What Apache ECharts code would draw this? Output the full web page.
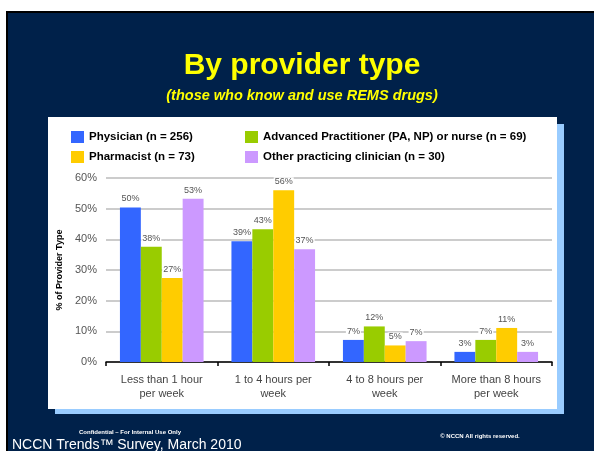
<!DOCTYPE html>
<html>
<head>
<meta charset="utf-8">
<script src="https://cdn.jsdelivr.net/npm/echarts@6/dist/echarts.min.js"></script>
<style>
  html, body { margin: 0; padding: 0; background: #fff; overflow: hidden; }
  #chart { width: 594px; height: 451px; }
</style>
</head>
<body>
<div id="chart"></div>
<script>
// categories (x axis)
var categories = ['Less than 1 hour\nper week', '1 to 4 hours per\nweek', '4 to 8 hours per\nweek', 'More than 8 hours\nper week']
// % of provider type
var physician = [50.4, 39.4, 7.2, 3.3]
var advanced = [37.6, 43.3, 11.6, 7.2]
var pharmacist = [27.4, 56.0, 5.4, 11.1]
var other = [53.2, 36.8, 6.8, 3.3]
var seriesNames = ['Physician (n = 256)', 'Advanced Practitioner (PA, NP) or nurse (n = 69)', 'Pharmacist (n = 73)', 'Other practicing clinician (n = 30)']
var colors = ['#3366FF', '#99CC00', '#FFCC00', '#CC99FF']

var navy = '#00214A'

var myChart = echarts.init(document.getElementById('chart'))

function makeSeries(name, data, color) {
	return {
		name: name,
		type: 'bar',
		data: data,
		barGap: '0%',
		barCategoryGap: '25%',
		itemStyle: { color: color },
		label: {
			show: true,
			position: 'top',
			distance: 4,
			color: '#555',
			fontSize: 9,
			fontFamily: 'Liberation Sans, Arial, sans-serif',
			backgroundColor: '#fff',
			padding: [0, 1],
			formatter: function(p) { return Math.round(p.value) + '%' }
		}
	}
}

var legendText = {
	color: '#000',
	fontSize: 11.5,
	fontWeight: 'bold',
	fontFamily: 'Liberation Sans, Arial, sans-serif'
}

var option = {
	backgroundColor: '#fff',
	animation: false,
	graphic: [
		// slide background
		{ type: 'rect', shape: { x: 6, y: 11, width: 600, height: 450 }, style: { fill: '#000' }, z: -10 },
		{ type: 'rect', shape: { x: 8, y: 13, width: 600, height: 450 }, style: { fill: navy }, z: -9 },
		// panel shadow + panel
		{ type: 'rect', shape: { x: 55, y: 124, width: 509, height: 290 }, style: { fill: '#99CCFF' }, z: -8 },
		{ type: 'rect', shape: { x: 48, y: 117, width: 509, height: 292 }, style: { fill: '#fff' }, z: -7 },
		// titles
		{
			type: 'text', x: 302, y: 66,
			style: { text: 'By provider type', fill: '#FFFF00', font: 'bold 30px "Liberation Sans", Arial, sans-serif', align: 'center', verticalAlign: 'middle' }
		},
		{
			type: 'text', x: 302, y: 96,
			style: { text: '(those who know and use REMS drugs)', fill: '#FFFF00', font: 'italic bold 14.5px "Liberation Sans", Arial, sans-serif', align: 'center', verticalAlign: 'middle' }
		},
		// footer
		{
			type: 'text', x: 130, y: 432,
			style: { text: 'Confidential – For Internal Use Only', fill: '#fff', font: 'bold 6px "Liberation Sans", Arial, sans-serif', align: 'center', verticalAlign: 'middle' }
		},
		{
			type: 'text', x: 480, y: 436,
			style: { text: '© NCCN All rights reserved.', fill: '#fff', font: 'bold 6px "Liberation Sans", Arial, sans-serif', align: 'center', verticalAlign: 'middle' }
		},
		{
			type: 'text', x: 12, y: 445,
			style: { text: 'NCCN Trends™ Survey, March 2010', fill: '#fff', font: '14px "Liberation Sans", Arial, sans-serif', align: 'left', verticalAlign: 'middle' }
		}
	],
	legend: [{
		data: [seriesNames[0], seriesNames[2]],
		orient: 'vertical',
		left: 71,
		top: 131,
		padding: 0,
		itemWidth: 13,
		itemHeight: 12,
		itemGap: 8,
		icon: 'rect',
		textStyle: legendText
	}, {
		data: [seriesNames[1], seriesNames[3]],
		orient: 'vertical',
		left: 245,
		top: 131,
		padding: 0,
		itemWidth: 13,
		itemHeight: 12,
		itemGap: 8,
		icon: 'rect',
		textStyle: legendText
	}],
	grid: { left: 106, right: 42, top: 178, bottom: 89, containLabel: false },
	xAxis: {
		type: 'category',
		data: categories,
		axisLine: { lineStyle: { color: '#000', width: 1.5 } },
		axisTick: { show: true, length: 4, lineStyle: { color: '#000', width: 1.5 } },
		axisLabel: {
			interval: 0,
			color: '#444',
			fontSize: 11,
			lineHeight: 14,
			margin: 11,
			fontFamily: 'Liberation Sans, Arial, sans-serif'
		}
	},
	yAxis: {
		type: 'value',
		min: 0,
		max: 60,
		interval: 10,
		name: '% of Provider Type',
		nameLocation: 'middle',
		nameRotate: 90,
		nameGap: 40,
		nameTextStyle: { color: '#000', fontSize: 9, fontWeight: 'bold', fontFamily: 'Liberation Sans, Arial, sans-serif' },
		axisLine: { show: false },
		axisTick: { show: false },
		axisLabel: {
			formatter: '{value}%',
			color: '#555',
			fontSize: 11,
			margin: 9,
			fontFamily: 'Liberation Sans, Arial, sans-serif'
		},
		splitLine: { lineStyle: { color: '#BBBBBB', width: 1.5 } }
	},
	series: [
		makeSeries(seriesNames[0], physician, colors[0]),
		makeSeries(seriesNames[1], advanced, colors[1]),
		makeSeries(seriesNames[2], pharmacist, colors[2]),
		makeSeries(seriesNames[3], other, colors[3])
	]
}

myChart.setOption(option)
</script>
</body>
</html>
